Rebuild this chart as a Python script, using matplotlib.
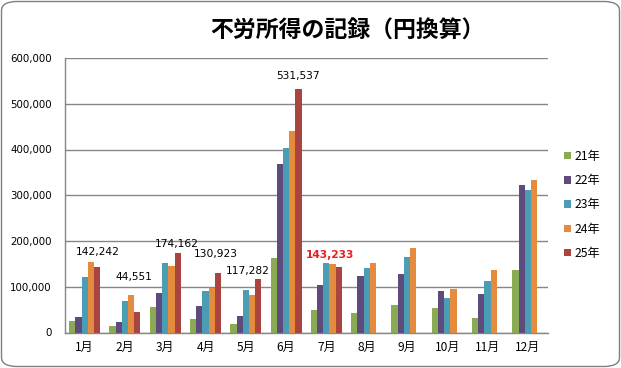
import matplotlib
matplotlib.use("Agg")
import matplotlib.pyplot as plt
from matplotlib.patches import FancyBboxPatch, Patch
from matplotlib.ticker import FuncFormatter
import numpy as np

plt.rcParams['font.family'] = ['Noto Sans CJK JP', 'DejaVu Sans']

title = "不労所得の記録（円換算）"
months = ["1月", "2月", "3月", "4月", "5月", "6月", "7月", "8月", "9月", "10月", "11月", "12月"]
series_names = ["21年", "22年", "23年", "24年", "25年"]
y21 = [26000, 15000, 55000, 30000, 18000, 162000, 49000, 42000, 60000, 53000, 31000, 136000]
y22 = [33000, 24000, 86000, 59000, 37000, 369000, 103000, 123000, 127000, 90000, 84000, 323000]
y23 = [121000, 69000, 152000, 90000, 92000, 404000, 152000, 142000, 166000, 75000, 112000, 312000]
y24 = [155000, 83000, 145000, 97000, 83000, 440000, 149000, 152000, 184000, 95000, 136000, 334000]
y25 = [142242, 44551, 174162, 130923, 117282, 531537, 143233]
label_texts = ["142,242", "44,551", "174,162", "130,923", "117,282", "531,537", "143,233"]
# label offsets (pixels) from top-centre of the 25年 bar
label_offsets = [(1, 15), (-3, 35), (-1, 9), (-2, 19), (-10, 8), (-1, 13), (-9, 12)]
label_colors = ["#000000"] * 6 + ["#e81c1c"]
label_weights = ["normal"] * 6 + ["bold"]

colors = ["#8BAA54", "#5F4A7E", "#4A9DB5", "#E58B3E", "#A94541"]

W, H = 621, 368
fig = plt.figure(figsize=(W / 100, H / 100), dpi=100)

border = FancyBboxPatch((1.5 / W, 1.5 / H), (W - 3) / W, (H - 3) / H,
                        boxstyle="round,pad=0,rounding_size=0.025",
                        transform=fig.transFigure, facecolor="white",
                        edgecolor="#7f7f7f", linewidth=1.0, zorder=-10)
fig.patches.append(border)

left, right, top, bottom = 64.5, 548, 58, 332.5
ax = fig.add_axes([left / W, 1 - bottom / H, (right - left) / W, (bottom - top) / H])
ax.set_facecolor("none")

data = [y21, y22, y23, y24, y25]
n = len(data)
bw = 1 / 6.5
x = np.arange(len(months))
bars25 = None
for i, (vals, c, name) in enumerate(zip(data, colors, series_names)):
    xs = x[:len(vals)] + (i - (n - 1) / 2) * bw
    b = ax.bar(xs, vals, width=bw, color=c, label=name, zorder=3, linewidth=0)
    if i == 4:
        bars25 = b

for rect, txt, (dx, dy), col, wt in zip(bars25, label_texts, label_offsets, label_colors, label_weights):
    ax.annotate(txt, (rect.get_x() + rect.get_width() / 2, rect.get_height()),
                xytext=(dx, dy), textcoords="offset pixels", ha="center", va="center",
                fontsize=7.7, color=col, fontweight=wt, family="DejaVu Sans")

ax.set_xlim(-0.5, len(months) - 0.5)
ax.set_ylim(0, 600000)
ax.set_yticks(np.arange(0, 600001, 100000))
ax.yaxis.set_major_formatter(FuncFormatter(lambda v, p: f"{int(v):,}"))
ax.set_xticks(x)
ax.set_xticklabels(months)
ax.tick_params(axis="y", length=0, pad=9, labelsize=7.4, colors="#000000")
ax.tick_params(axis="x", length=0, pad=6, labelsize=8.6)
for lbl in ax.get_yticklabels():
    lbl.set_family("DejaVu Sans")
ax.grid(axis="y", color="#868686", linewidth=1.0, zorder=0)
for s in ["top", "right"]:
    ax.spines[s].set_visible(False)
ax.spines["left"].set_color("#868686")
ax.spines["bottom"].set_color("#868686")
ax.spines["left"].set_linewidth(1.0)
ax.spines["bottom"].set_linewidth(1.0)

fig.text(347 / W, 1 - 31 / H, title, ha="center", va="center", fontsize=16.5, fontweight="bold")

handles = [Patch(facecolor=c, edgecolor="none") for c in colors]
fig.legend(handles, series_names, loc="upper left", bbox_to_anchor=(564 / W, 1 - 150 / H),
           frameon=False, fontsize=8.8, handlelength=0.55, handleheight=0.55,
           handletextpad=0.35, labelspacing=0.92, borderpad=0, borderaxespad=0)

fig.savefig("out.png", dpi=100)
